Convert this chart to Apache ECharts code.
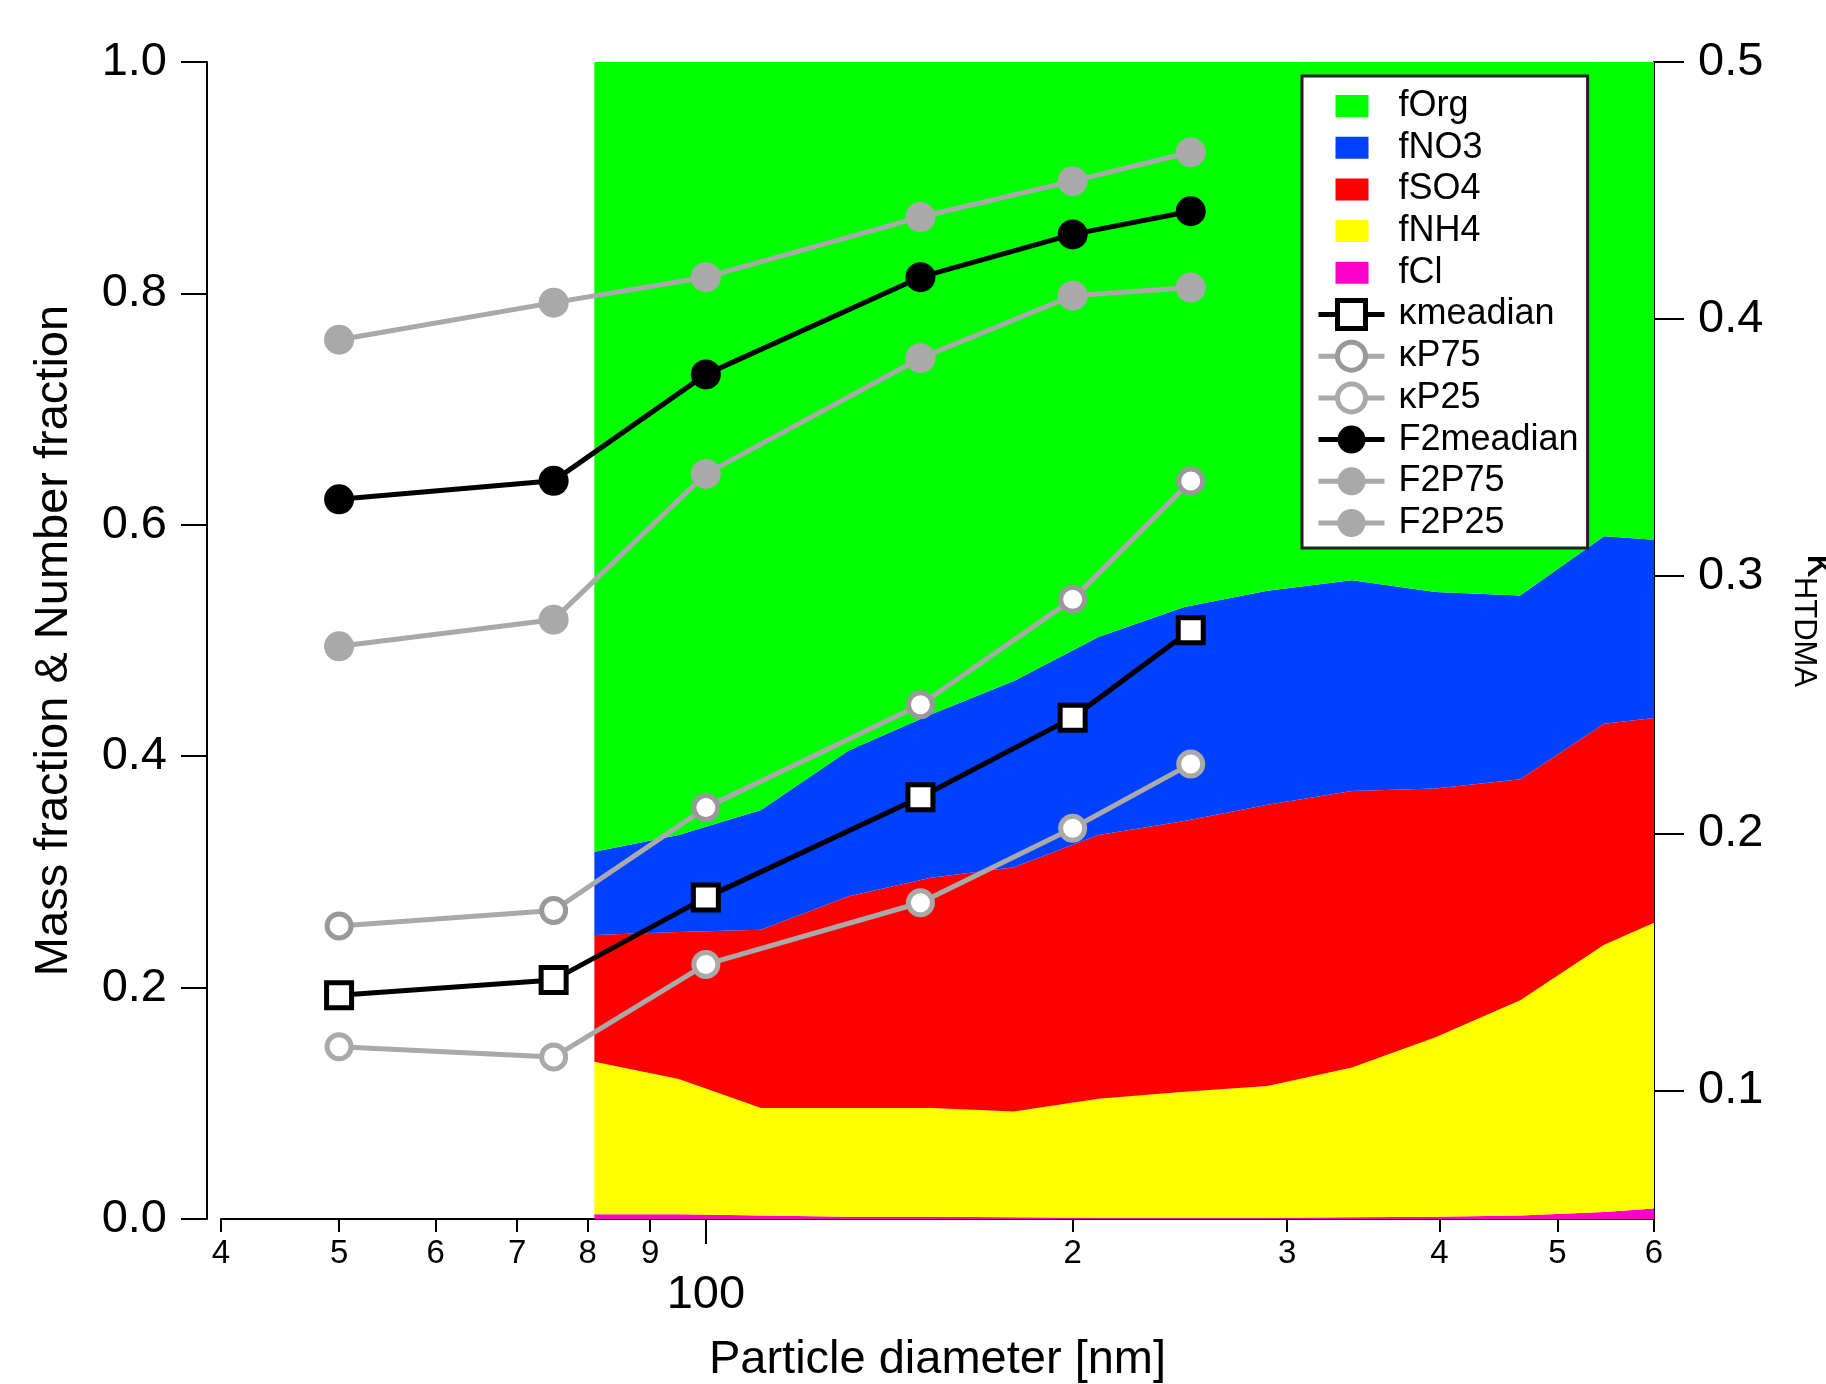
<!DOCTYPE html>
<html>
<head>
<meta charset="utf-8">
<title>Mass fraction & kappa vs particle diameter</title>
<script src="https://cdn.jsdelivr.net/npm/echarts@6/dist/echarts.min.js"></script>
<style>
  html, body { margin: 0; padding: 0; background: #fff; }
  #main { width: 1826px; height: 1384px; }
</style>
</head>
<body>
<div id="main"></div>
<script>
// AMS 粒径 (nm) 和各组分质量分数
const dAms = [81, 95, 111, 131, 153, 179, 210, 247, 289, 339, 397, 466, 546, 600]
const fCl = [0.004, 0.004, 0.003, 0.002, 0.002, 0.0015, 0.001, 0.001, 0.001, 0.0015, 0.002, 0.003, 0.006, 0.009]
const fNH4 = [0.132, 0.117, 0.093, 0.094, 0.094, 0.0915, 0.103, 0.109, 0.114, 0.1295, 0.155, 0.186, 0.231, 0.247]
const fSO4 = [0.1095, 0.127, 0.154, 0.183, 0.199, 0.211, 0.228, 0.234, 0.243, 0.239, 0.215, 0.191, 0.191, 0.177]
const fNO3 = [0.072, 0.084, 0.1035, 0.126, 0.141, 0.161, 0.171, 0.185, 0.185, 0.182, 0.170, 0.159, 0.162, 0.154]
const fOrg = [0.6825, 0.668, 0.6465, 0.595, 0.564, 0.535, 0.497, 0.471, 0.457, 0.448, 0.458, 0.461, 0.410, 0.413]

// HTDMA 粒径 (nm)
const dHtdma = [50, 75, 100, 150, 200, 250]
// kappa (右轴)
const kMedian = [0.137, 0.143, 0.175, 0.214, 0.245, 0.279]
const kP75 = [0.164, 0.170, 0.210, 0.250, 0.291, 0.337]
const kP25 = [0.117, 0.113, 0.149, 0.173, 0.202, 0.227]
// F2 数量分数 (左轴)
const f2Median = [0.622, 0.638, 0.730, 0.814, 0.851, 0.871]
const f2P75 = [0.760, 0.792, 0.814, 0.866, 0.897, 0.922]
const f2P25 = [0.495, 0.518, 0.644, 0.744, 0.798, 0.805]

// 刻度
const xTicks = [40, 50, 60, 70, 80, 90, 100, 200, 300, 400, 500, 600]
const xMajorTicks = [100]
const kTicks = [0.1, 0.2, 0.3, 0.4, 0.5]

const FONT = '"Liberation Sans", Arial, Helvetica, sans-serif'
const GREY = '#a9a9a9'
const axisLineStyle = { color: '#000', width: 2 }

const pair = (xs, ys) => xs.map((x, i) => [x, ys[i]])

// 堆叠面积：数据按 [y, x] 存，保证沿 y 方向堆叠
const areaSeries = (name, values, color) => ({
    type: 'line',
    name,
    stack: 'ams',
    data: pair(values, dAms),
    encode: { x: 1, y: 0 },
    color,
    symbol: 'none',
    lineStyle: { width: 0, color },
    areaStyle: { color, opacity: 1 },
    silent: true,
    z: 1
})

// 折线 + 标记
const markSeries = (name, values, yAxisIndex, s) => ({
    type: 'line',
    name,
    yAxisIndex,
    data: pair(dHtdma, values),
    symbol: s.symbol,
    symbolSize: s.size,
    color: s.line,
    lineStyle: { color: s.line, width: 5 },
    itemStyle: { color: s.fill, borderColor: s.border, borderWidth: s.borderWidth },
    z: 3
})

// 图例色块（留出左右空白，使文字对齐）
const swatch = 'path://M0,0L0,0M66,35L66,35M17,6.5L50,6.5L50,28.5L17,28.5Z'

const xLabel = v => {
    if (v === 100) return '{b|100}'
    const p = Math.pow(10, Math.floor(Math.log10(v)))
    return '{s|' + Math.round(v / p) + '}'
}

const chart = echarts.init(document.getElementById('main'))

const option = {
    animation: false,
    backgroundColor: '#fff',
    textStyle: { fontFamily: FONT, color: '#000' },
    grid: { left: 221, right: 172, top: 62, bottom: 165, containLabel: false, outerBoundsMode: 'none' },
    xAxis: [
        {
            type: 'log',
            logBase: 10,
            min: 40,
            max: 600,
            axisLine: { lineStyle: axisLineStyle },
            axisTick: { customValues: xTicks, length: 13, lineStyle: axisLineStyle },
            axisLabel: {
                customValues: xTicks,
                formatter: xLabel,
                margin: 18,
                color: '#000',
                rich: {
                    s: { fontSize: 33, fontFamily: FONT, color: '#000' },
                    b: { fontSize: 47, fontFamily: FONT, color: '#000', padding: [35, 0, 0, 0] }
                }
            },
            minorTick: { show: false },
            splitLine: { show: false },
            name: 'Particle diameter [nm]',
            nameLocation: 'middle',
            nameGap: 118,
            nameTextStyle: { fontSize: 47, fontFamily: FONT, color: '#000' }
        },
        {
            // 100 处的长刻度
            type: 'log',
            logBase: 10,
            min: 40,
            max: 600,
            position: 'bottom',
            axisLine: { show: false },
            axisTick: { customValues: xMajorTicks, length: 25, lineStyle: axisLineStyle },
            axisLabel: { show: false },
            splitLine: { show: false }
        }
    ],
    yAxis: [
        {
            type: 'value',
            min: 0,
            max: 1,
            interval: 0.2,
            position: 'left',
            offset: 14,
            axisLine: { show: true, lineStyle: axisLineStyle },
            axisTick: { show: true, length: 26, lineStyle: axisLineStyle },
            axisLabel: { formatter: v => v.toFixed(1), fontSize: 47, margin: 40, color: '#000' },
            splitLine: { show: false },
            name: 'Mass fraction & Number fraction',
            nameLocation: 'middle',
            nameRotate: 90,
            nameGap: 129,
            nameTextStyle: { fontSize: 47, fontFamily: FONT, color: '#000' }
        },
        {
            type: 'value',
            min: 0.05,
            max: 0.5,
            position: 'right',
            axisLine: { show: true, lineStyle: axisLineStyle },
            axisTick: { show: true, customValues: kTicks, length: 30, lineStyle: axisLineStyle },
            axisLabel: { customValues: kTicks, formatter: v => v.toFixed(1), fontSize: 47, margin: 44, color: '#000' },
            splitLine: { show: false },
            name: '{k|κ}{s|HTDMA}',
            nameLocation: 'middle',
            nameRotate: -90,
            nameGap: 134,
            nameTextStyle: {
                padding: [0, 40, 0, 0],
                rich: {
                    k: { fontSize: 46, fontFamily: FONT, color: '#000', lineHeight: 56, verticalAlign: 'top' },
                    s: { fontSize: 31, fontFamily: FONT, color: '#000', lineHeight: 56, verticalAlign: 'bottom' }
                }
            }
        }
    ],
    legend: {
        orient: 'vertical',
        left: 1302,
        top: 76,
        padding: [12, 9, 7, 14],
        itemWidth: 66,
        itemHeight: 35,
        itemGap: 5.7,
        selectedMode: false,
        backgroundColor: '#fff',
        borderColor: '#222',
        borderWidth: 3,
        borderRadius: 0,
        textStyle: { fontFamily: FONT, fontSize: 36, color: '#000', padding: [0, 0, 0, 9] },
        data: [
            { name: 'fOrg', icon: swatch, itemStyle: { color: '#00ff00', borderWidth: 0 } },
            { name: 'fNO3', icon: swatch, itemStyle: { color: '#0040ff', borderWidth: 0 } },
            { name: 'fSO4', icon: swatch, itemStyle: { color: '#ff0000', borderWidth: 0 } },
            { name: 'fNH4', icon: swatch, itemStyle: { color: '#ffff00', borderWidth: 0 } },
            { name: 'fCl', icon: swatch, itemStyle: { color: '#ff00cc', borderWidth: 0 } },
            { name: 'κmeadian', itemStyle: { color: '#fff', borderColor: '#000', borderWidth: 5 }, lineStyle: { color: '#000', width: 5 } },
            { name: 'κP75', itemStyle: { color: '#fff', borderColor: '#999', borderWidth: 5 }, lineStyle: { color: GREY, width: 5 } },
            { name: 'κP25', itemStyle: { color: '#fff', borderColor: GREY, borderWidth: 5 }, lineStyle: { color: GREY, width: 5 } },
            { name: 'F2meadian', itemStyle: { color: '#000', borderWidth: 0 }, lineStyle: { color: '#000', width: 5 } },
            { name: 'F2P75', itemStyle: { color: GREY, borderWidth: 0 }, lineStyle: { color: GREY, width: 5 } },
            { name: 'F2P25', itemStyle: { color: GREY, borderWidth: 0 }, lineStyle: { color: GREY, width: 5 } }
        ]
    },
    series: [
        areaSeries('fCl', fCl, '#ff00cc'),
        areaSeries('fNH4', fNH4, '#ffff00'),
        areaSeries('fSO4', fSO4, '#ff0000'),
        areaSeries('fNO3', fNO3, '#0040ff'),
        areaSeries('fOrg', fOrg, '#00ff00'),
        markSeries('F2P75', f2P75, 0, { symbol: 'circle', size: 30, line: GREY, fill: GREY, border: GREY, borderWidth: 0 }),
        markSeries('F2P25', f2P25, 0, { symbol: 'circle', size: 30, line: GREY, fill: GREY, border: GREY, borderWidth: 0 }),
        markSeries('F2meadian', f2Median, 0, { symbol: 'circle', size: 30, line: '#000', fill: '#000', border: '#000', borderWidth: 0 }),
        markSeries('κP75', kP75, 1, { symbol: 'circle', size: 24, line: GREY, fill: '#fff', border: '#999', borderWidth: 5 }),
        markSeries('κP25', kP25, 1, { symbol: 'circle', size: 24, line: GREY, fill: '#fff', border: GREY, borderWidth: 5 }),
        markSeries('κmeadian', kMedian, 1, { symbol: 'rect', size: 25, line: '#000', fill: '#fff', border: '#000', borderWidth: 5 })
    ]
}

chart.setOption(option)
</script>
</body>
</html>
